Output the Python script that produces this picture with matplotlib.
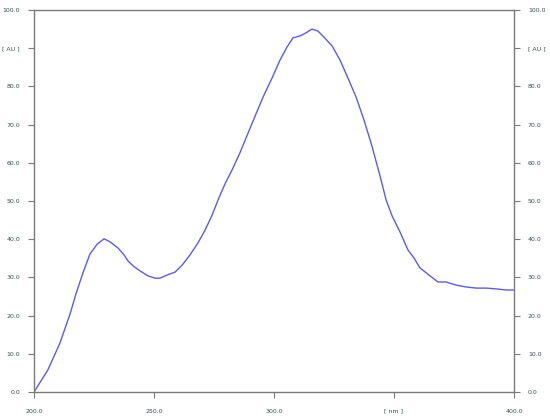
import matplotlib.pyplot as plt

# spectrum
wavelength = [200.0, 205.8, 210.8, 215.0, 217.5, 220.4, 223.3, 226.3, 229.2, 231.7,
              235.0, 237.5, 239.2, 241.3, 244.2, 247.5, 250.4, 252.5, 255.4, 258.8,
              261.7, 265.0, 268.3, 271.3, 274.2, 276.7, 279.6, 282.5, 285.8, 289.2,
              292.5, 295.8, 299.2, 302.5, 305.4, 307.9, 310.8, 313.3, 315.8, 318.3,
              320.8, 324.2, 327.5, 330.8, 334.2, 337.5, 340.8, 344.2, 346.7, 349.2,
              352.5, 355.8, 358.3, 360.8, 365.0, 368.3, 371.7, 375.8, 380.0, 384.2,
              388.3, 392.5, 396.7, 400.0]
absorb = [0.0, 5.8, 12.8, 20.4, 25.7, 31.2, 36.1, 38.7, 40.1, 39.3,
          37.7, 35.9, 34.3, 33.0, 31.7, 30.4, 29.8, 29.8, 30.6, 31.4,
          33.2, 35.9, 39.0, 42.4, 46.3, 50.3, 54.5, 58.1, 62.6, 67.8,
          72.8, 77.7, 82.2, 86.9, 90.3, 92.7, 93.2, 94.0, 95.0, 94.5,
          92.9, 90.6, 86.9, 82.2, 77.2, 71.2, 64.4, 56.5, 50.3, 46.1,
          41.9, 37.2, 35.1, 32.5, 30.4, 28.8, 28.8, 28.0, 27.5, 27.2,
          27.2, 27.0, 26.7, 26.7]

x_ticks = [200, 250, 300, 350, 400]
x_labels = ['200.0', '250.0', '300.0', '[ nm ]', '400.0']
y_ticks = list(range(0, 101, 10))
y_labels = ['0.0', '10.0', '20.0', '30.0', '40.0', '50.0', '60.0', '70.0', '80.0', '[ AU ]', '100.0']

txt = '#3b4f4f'
axc = '#7a7a7a'

fig = plt.figure(figsize=(5.5, 4.18), dpi=100)
ax = fig.add_axes([34 / 550, 1 - 392 / 418, 480 / 550, 382 / 418])
ax.plot(wavelength, absorb, color='#5b5bf0', lw=1.0)
ax.set_xlim(200, 400)
ax.set_ylim(0, 100)

ax.set_xticks(x_ticks)
ax.set_xticklabels(x_labels)
ax.set_yticks(y_ticks)
ax.set_yticklabels(y_labels)
ax.tick_params(axis='both', direction='out', length=4, width=0.8, color=axc,
               labelsize=4.5, labelcolor=txt)
ax.tick_params(axis='x', pad=8)
ax.tick_params(axis='y', right=True, labelright=True, pad=6)

for s in ax.spines.values():
    s.set_color(axc)
    s.set_linewidth(1.0)

fig.savefig('out.png', dpi=100)
